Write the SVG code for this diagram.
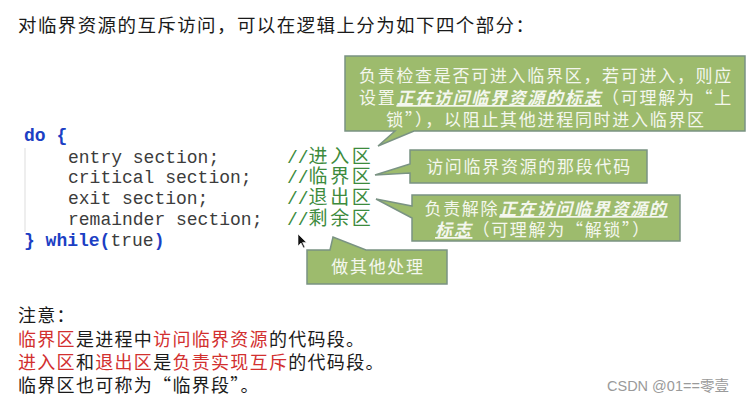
<svg xmlns="http://www.w3.org/2000/svg" width="755" height="404" viewBox="0 0 755 404">
<style>
.cn{font-family:"Noto Sans CJK SC","Noto Sans",sans-serif;}
.title{font-size:18.5px;letter-spacing:1.4px;fill:#1a1a1a;}
.code{font-family:"Liberation Mono","DejaVu Sans Mono",monospace;font-size:18px;fill:#3c3c3c;}
.kw{fill:#1c3fc4;font-weight:bold;}
.cm{fill:#3d8b3d;}
.cmcn{font-family:"Noto Sans CJK SC",sans-serif;font-size:19px;letter-spacing:2.6px;}
.box{fill:#9dbb6d;stroke:#7a9383;stroke-width:1.5;}
.ct{font-family:"Noto Sans CJK SC",sans-serif;font-size:17px;letter-spacing:1.7px;fill:#f4f7ee;text-anchor:middle;}
.em{font-style:italic;font-weight:bold;text-decoration:underline;}
.note{font-size:18px;letter-spacing:1.3px;fill:#1a1a1a;}
.red{fill:#d2302f;}
</style>
<rect width="755" height="404" fill="#ffffff"/>
<g id="title">
<text class="cn title" x="18" y="32">对临界资源的互斥访问，可以在逻辑上分为如下四个部分：</text>
</g>
<g id="code">
<line x1="25" y1="148" x2="25" y2="232" stroke="#dddddd" stroke-width="1"/>
<text class="code" x="24" y="141"><tspan class="kw">do {</tspan></text>
<text class="code" x="68" y="162.5">entry section;</text>
<text class="code" x="68" y="183">critical section;</text>
<text class="code" x="68" y="204">exit section;</text>
<text class="code" x="68" y="225">remainder section;</text>
<text class="code" x="24" y="246"><tspan class="kw">} while(</tspan>true<tspan class="kw">)</tspan></text>
<text class="code cm" x="287" y="162.5">//<tspan class="cmcn">进入区</tspan></text>
<text class="code cm" x="287" y="183">//<tspan class="cmcn">临界区</tspan></text>
<text class="code cm" x="287" y="204">//<tspan class="cmcn">退出区</tspan></text>
<text class="code cm" x="287" y="225">//<tspan class="cmcn">剩余区</tspan></text>
</g>
<g id="callout-entry">
<path class="box" d="M345,56 H745 V131 H414 L378,146 L395,131 H345 Z"/>
<text class="ct" x="546" y="82">负责检查是否可进入临界区，若可进入，则应</text>
<text class="ct" x="546" y="104">设置<tspan class="em">正在访问临界资源的标志</tspan>（可理解为“上</text>
<text class="ct" x="546" y="126">锁”），以阻止其他进程同时进入临界区</text>
</g>
<g id="callout-critical">
<path class="box" d="M410,150 H647 V183 H410 V173 L375,175 L410,164 Z"/>
<text class="ct" x="529" y="173">访问临界资源的那段代码</text>
</g>
<g id="callout-exit">
<path class="box" d="M412,195 H680 V241 H412 V218 L376,199 L412,206 Z"/>
<text class="ct" x="546" y="215">负责解除<tspan class="em">正在访问临界资源的</tspan></text>
<text class="ct" x="543" y="236"><tspan class="em">标志</tspan>（可理解为“解锁”）</text>
</g>
<g id="callout-remainder">
<path class="box" d="M307,250 H330 L333,237 L366,250 H447 V284 H307 Z"/>
<text class="ct" x="378" y="273">做其他处理</text>
</g>
<g id="cursor">
<path d="M298,234 L298,246 L301,243 L303.5,248 L305,247.3 L302.6,242.4 L306.5,242.4 Z" fill="#111111" stroke="#ffffff" stroke-width="0.6"/>
</g>
<g id="notes">
<text class="cn note" x="18" y="322">注意：</text>
<text class="cn note" x="18" y="346"><tspan class="red">临界区</tspan>是进程中<tspan class="red">访问临界资源</tspan>的代码段。</text>
<text class="cn note" x="18" y="369"><tspan class="red">进入区</tspan>和<tspan class="red">退出区</tspan>是<tspan class="red">负责实现互斥</tspan>的代码段。</text>
<text class="cn note" x="18" y="392">临界区也可称为“临界段”。</text>
</g>
<g id="watermark">
<text x="607" y="391" font-family="'Liberation Sans','Noto Sans CJK SC',sans-serif" font-size="14.5" fill="#9a9a9a">CSDN @01==零壹</text>
</g>
</svg>
